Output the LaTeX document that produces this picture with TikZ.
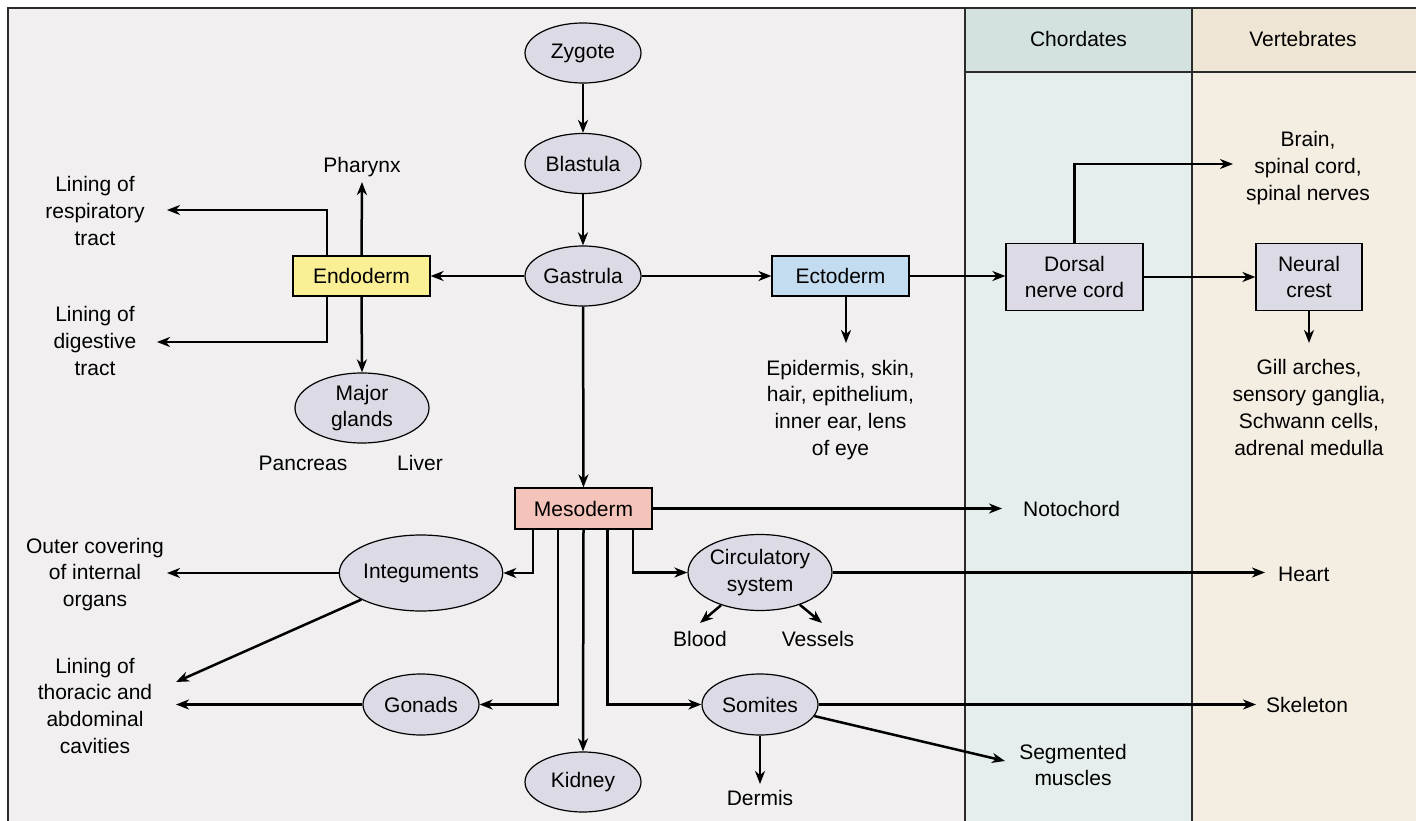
\documentclass[tikz,border=0pt]{standalone}
\usepackage{fontspec}
\setmainfont{Liberation Sans}
\usetikzlibrary{arrows.meta,shapes.geometric}
\definecolor{bgmain}{HTML}{F1EFEF}
\definecolor{chordhead}{HTML}{D3E1E1}
\definecolor{chordbody}{HTML}{E5EEEC}
\definecolor{verthead}{HTML}{EEE5D5}
\definecolor{vertbody}{HTML}{F4EDE2}
\definecolor{lav}{HTML}{DCDBE5}
\definecolor{endoc}{HTML}{FBEF96}
\definecolor{ectoc}{HTML}{C4DCF0}
\definecolor{mesoc}{HTML}{F4C3B9}
\definecolor{framec}{HTML}{2A2A2A}
\begin{document}
\begin{tikzpicture}[x=1pt,y=-1pt,
  txt/.style={font=\fontsize{21}{26.7}\selectfont, align=center, inner sep=0pt},
  oval/.style={ellipse, draw, line width=1.2pt, fill=lav, inner sep=0pt, align=center,
    font=\fontsize{21}{26.7}\selectfont},
  boxn/.style={rectangle, draw, line width=1.2pt, inner sep=0pt, align=center,
    font=\fontsize{21}{26.7}\selectfont},
  arr/.style={line width=2.5pt, -{Stealth[length=13pt,width=10pt,inset=4pt]}},
  frameline/.style={line width=1.4pt, draw=framec}
]
\useasboundingbox (0,0) rectangle (1416,821);
% backgrounds
\fill[bgmain] (8,8) rectangle (965,821);
\fill[chordhead] (965,8) rectangle (1192,72);
\fill[chordbody] (965,72) rectangle (1192,821);
\fill[verthead] (1192,8) rectangle (1416,72);
\fill[vertbody] (1192,72) rectangle (1416,821);
\draw[frameline] (8,821) -- (8,8) -- (1416,8);
\draw[frameline] (965,8) -- (965,821);
\draw[frameline] (1192,8) -- (1192,821);
\draw[frameline] (965,72) -- (1416,72);
\node[txt, anchor=base] (hchord) at (1078.5,46.7) {Chordates};
\node[txt, anchor=base] (hvert) at (1303,46.7) {Vertebrates};

% main nodes
\node[oval, minimum width=116pt, minimum height=60pt] (zyg) at (583,53) {Zygote};
\node[oval, minimum width=116pt, minimum height=60pt] (bla) at (583,163.5) {Blastula};
\node[oval, minimum width=116pt, minimum height=60pt] (gas) at (583,276) {Gastrula};
\node[boxn, fill=endoc, minimum width=137pt, minimum height=40pt] (endo) at (361.5,276) {Endoderm};
\node[boxn, fill=ectoc, minimum width=137pt, minimum height=40pt] (ecto) at (840.5,276) {Ectoderm};
\node[boxn, fill=mesoc, minimum width=137pt, minimum height=41pt] (meso) at (583.5,508.5) {Mesoderm};
\node[boxn, fill=lav, minimum width=137pt, minimum height=67pt] (dorsal) at (1074.5,277) {Dorsal\\nerve cord};
\node[boxn, fill=lav, minimum width=106pt, minimum height=67pt] (neural) at (1309,277) {Neural\\crest};
\node[oval, minimum width=134pt, minimum height=70pt] (glands) at (362,408) {Major\\glands};
\node[oval, minimum width=146pt, minimum height=76pt] (integ) at (421,573) {Integuments};
\node[oval, minimum width=116pt, minimum height=61pt] (gonads) at (421,704.5) {Gonads};
\node[oval, minimum width=116pt, minimum height=60pt] (kidney) at (583,782) {Kidney};
\node[oval, minimum width=144pt, minimum height=76pt] (circ) at (760,572.5) {Circulatory\\system};
\node[oval, minimum width=116pt, minimum height=61pt] (som) at (760,704.5) {Somites};

% text labels
\node[txt, anchor=base] (pharynx) at (362,173) {Pharynx};
\node[txt] (resp) at (95,210.8) {Lining of\\respiratory\\tract};
\node[txt] (dig) at (95,340.8) {Lining of\\digestive\\tract};
\node[txt, anchor=base] (pancreas) at (303,470) {Pancreas};
\node[txt, anchor=base] (liver) at (420,470) {Liver};
\node[txt] (outer) at (95,574.4) {Outer covering\\of internal\\organs};
\node[txt] (thor) at (95,705.8) {Lining of\\thoracic and\\abdominal\\cavities};
\node[txt] (epi) at (840.5,409.7) {Epidermis, skin,\\hair, epithelium,\\inner ear, lens\\of eye};
\node[txt] (brain) at (1308,168) {Brain,\\spinal cord,\\spinal nerves};
\node[txt] (gill) at (1309,407.5) {Gill arches,\\sensory ganglia,\\Schwann cells,\\adrenal medulla};
\node[txt, anchor=base west] (noto) at (1023,516.7) {Notochord};
\node[txt, anchor=base west] (heart) at (1278,581.7) {Heart};
\node[txt, anchor=base west] (skel) at (1266,712.7) {Skeleton};
\node[txt, anchor=base] (blood) at (700,646.7) {Blood};
\node[txt, anchor=base] (vessels) at (818,646.7) {Vessels};
\node[txt, anchor=base] (dermis) at (760,805) {Dermis};
\node[txt] (segm) at (1073,765.1) {Segmented\\muscles};

% arrow tip coordinates
\coordinate (pharT) at (362,182);
\coordinate (respT) at (167,210);
\coordinate (digT) at (157,342);
\coordinate (epiT) at (846,343);
\coordinate (brainT) at (1233,164);
\coordinate (gillT) at (1309,343);
\coordinate (notoT) at (1002,508.5);
\coordinate (outerT) at (167,573);
\coordinate (thorDT) at (176,682);
\coordinate (thorT) at (176,704.5);
\coordinate (heartT) at (1265,572.5);
\coordinate (skelT) at (1256,704.5);
\coordinate (bloodT) at (700,623);
\coordinate (vessT) at (822,623);
\coordinate (dermT) at (760,784);
\coordinate (segmT) at (1005,761);

% connectors
\draw[arr] (zyg) -- (bla);
\draw[arr] (bla) -- (gas);
\draw[arr] (gas) -- (endo);
\draw[arr] (gas) -- (ecto);
\draw[arr] (gas) -- (meso);
\draw[arr] (endo.north) -- (pharT);
\draw[arr] ([xshift=-34.5pt]endo.north) |- (respT);
\draw[arr] ([xshift=-34.5pt]endo.south) |- (digT);
\draw[arr] (endo.south) -- (glands.north);
\draw[arr] ([xshift=5.5pt]ecto.south) -- (epiT);
\draw[arr] (ecto.east) -- (ecto.east -| dorsal.west);
\draw[arr] (dorsal.north) |- (brainT);
\draw[arr] (dorsal.east |- neural.west) -- (neural.west);
\draw[arr] (neural.south) -- (gillT);
\draw[arr] (meso.east) -- (notoT);
\draw[arr] ([xshift=-50.5pt]meso.south) |- (integ.east);
\draw[arr] ([xshift=-25.5pt]meso.south) |- (gonads.east);
\draw[arr] (meso.south) -- (kidney.north);
\draw[arr] ([xshift=24pt]meso.south) |- (som.west);
\draw[arr] ([xshift=49.5pt]meso.south) |- (circ.west);
\draw[arr] (integ.west) -- (outerT);
\draw[arr] (integ.204) -- (thorDT);
\draw[arr] (gonads.west) -- (thorT);
\draw[arr] (circ.east) -- (heartT);
\draw[arr] (circ.220) -- (bloodT);
\draw[arr] (circ.321) -- (vessT);
\draw[arr] (som.east) -- (skelT);
\draw[arr] (som.348) -- (segmT);
\draw[arr] (som.south) -- (dermT);
\end{tikzpicture}
\end{document}
